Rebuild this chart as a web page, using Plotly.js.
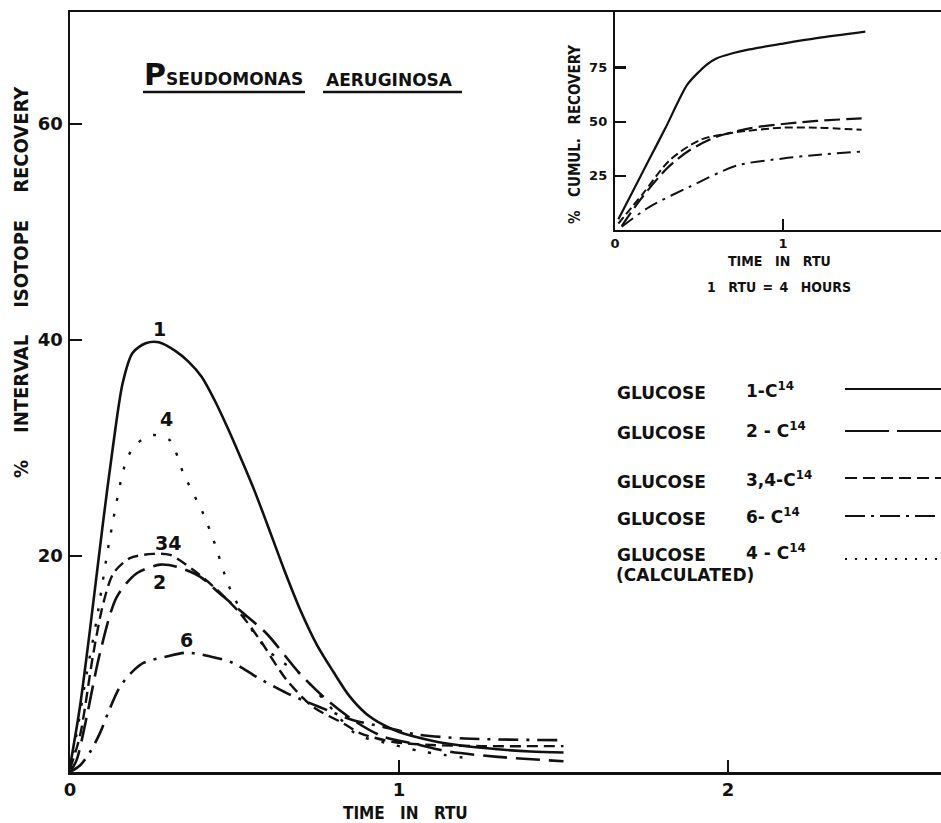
<!DOCTYPE html>
<html>
<head>
<meta charset="utf-8">
<script src="https://cdn.plot.ly/plotly-3.0.1.min.js"></script>
<style>html,body{margin:0;padding:0;background:#fff;}</style>
</head>
<body>
<div id="chart" style="width:941px;height:823px;"></div>
<script>
// ---- Main chart: % interval isotope recovery vs time (RTU) ----
const x_c1 = [0, 0.03, 0.06, 0.1, 0.13, 0.16, 0.19, 0.23, 0.27, 0.32, 0.36, 0.4, 0.44, 0.48, 0.52, 0.56, 0.6, 0.65, 0.7, 0.75, 0.8, 0.85, 0.9, 0.95, 1.0, 1.1, 1.2, 1.3, 1.4, 1.5];
const y_c1 = [0.5, 6, 13, 23, 30, 36, 38.8, 39.7, 39.8, 39, 38, 36.6, 34.4, 31.8, 29, 26.1, 22.9, 18.8, 15, 11.8, 9.3, 7, 5.4, 4.4, 3.7, 2.9, 2.4, 2.1, 1.9, 1.8];

const x_c2 = [0, 0.02, 0.05, 0.091, 0.142, 0.203, 0.274, 0.324, 0.395, 0.456, 0.527, 0.598, 0.699, 0.78, 0.861, 0.95, 1.05, 1.15, 1.3, 1.5];
const y_c2 = [0, 1.1, 5, 11, 16.2, 18.4, 19.2, 19.0, 18.1, 16.5, 14.7, 12.8, 9.1, 6.7, 4.8, 3.3, 2.6, 1.9, 1.4, 1.0];

const x_c34 = [0, 0.03, 0.071, 0.101, 0.132, 0.182, 0.253, 0.304, 0.375, 0.446, 0.517, 0.578, 0.659, 0.74, 0.831, 0.881, 0.98, 1.1, 1.25, 1.5];
const y_c34 = [0.3, 3.3, 11, 15.6, 18.4, 19.8, 20.2, 20.1, 18.7, 16.9, 14.7, 12.2, 8.5, 6.0, 4.5, 3.6, 2.8, 2.5, 2.4, 2.4];

const x_c6 = [0, 0.03, 0.06, 0.091, 0.12, 0.152, 0.19, 0.223, 0.294, 0.355, 0.426, 0.496, 0.567, 0.659, 0.76, 0.861, 0.95, 1.05, 1.2, 1.5];
const y_c6 = [0, 0.6, 1.8, 3.6, 5.8, 7.9, 9.3, 10.1, 10.7, 11.05, 10.7, 10.1, 8.8, 7.3, 6.0, 4.8, 4.2, 3.5, 3.1, 2.95];

const x_c4 = [0, 0.02, 0.05, 0.081, 0.122, 0.172, 0.203, 0.253, 0.304, 0.344, 0.405, 0.436, 0.486, 0.567, 0.63, 0.699, 0.78, 0.87, 0.947, 1.07, 1.23];
const y_c4 = [0.3, 3.5, 9, 14.1, 21.8, 28.9, 30.4, 31.2, 30.7, 27.7, 23.9, 21.5, 17, 12.5, 10.5, 9.1, 6.4, 3.5, 2.8, 1.9, 1.2];

// ---- Inset: % cumulative recovery ----
const ix_c1 = [0.02, 0.1, 0.2, 0.3, 0.43, 0.5, 0.55, 0.6, 0.7, 0.8, 1.0, 1.2, 1.49];
const iy_c1 = [5, 17, 32, 47, 67, 73, 76.5, 79, 81.5, 83.3, 86, 88.5, 91.5];
const ix_c2 = [0.04, 0.149, 0.31, 0.446, 0.605, 0.8, 1.0, 1.2, 1.468];
const iy_c2 = [1.8, 13.8, 28.5, 36.9, 43, 46.9, 48.9, 50.3, 51.5];
const ix_c34 = [0.02, 0.169, 0.327, 0.506, 0.704, 1.0, 1.2, 1.468];
const iy_c34 = [3, 17, 32.3, 41.5, 44.9, 47.2, 47.2, 46.2];
const ix_c6 = [0.04, 0.208, 0.446, 0.724, 1.0, 1.2, 1.468];
const iy_c6 = [1.5, 10.8, 20, 29.7, 33, 34.6, 36.2];

// ---- Tick labels ----
const mainXTicks = [0, 1, 2];
const mainYTicks = [20, 40, 60];
const insetXTicks = [0, 1];
const insetYTicks = [25, 50, 75];

// ---- Labels ----
const curveLabels = ["1", "4", "34", "2", "6"];
const legendIsotopes = ["1-C<sup>14</sup>", "2 - C<sup>14</sup>", "3,4-C<sup>14</sup>", "6- C<sup>14</sup>", "4 - C<sup>14</sup>"];

const INK = '#111';
const FONT = 'DejaVu Sans, Liberation Sans, sans-serif';
const CFONT = 'DejaVu Sans Condensed, DejaVu Sans, sans-serif';
const SP = '\u2003';
const SP2 = '\u2003\u2002';

const DASH = {
  solid: 'solid',
  long: '24px,9px',
  short: '11px,6px',
  dashdot: '20px,8px,3px,8px',
  dot: '3px,13px'
};
const IDASH = {
  solid: 'solid',
  long: '16px,6px',
  short: '8px,4px',
  dashdot: '14px,6px,3px,6px'
};

function tr(x, y, dash, w, xa, ya) {
  return {x: x, y: y, type: 'scatter', mode: 'lines', xaxis: xa, yaxis: ya,
    line: {color: INK, width: w, dash: dash, shape: 'spline', smoothing: 0.8},
    hoverinfo: 'skip', showlegend: false};
}

const data = [
  tr(x_c1, y_c1, DASH.solid, 2.6, 'x', 'y'),
  tr(x_c2, y_c2, DASH.long, 2.6, 'x', 'y'),
  tr(x_c34, y_c34, DASH.short, 2.4, 'x', 'y'),
  tr(x_c6, y_c6, DASH.dashdot, 2.6, 'x', 'y'),
  tr(x_c4, y_c4, DASH.dot, 2.4, 'x', 'y'),
  tr(ix_c1, iy_c1, IDASH.solid, 2.2, 'x2', 'y2'),
  tr(ix_c2, iy_c2, IDASH.long, 2.2, 'x2', 'y2'),
  tr(ix_c34, iy_c34, IDASH.short, 2.0, 'x2', 'y2'),
  tr(ix_c6, iy_c6, IDASH.dashdot, 2.0, 'x2', 'y2')
];

// pixel -> paper helpers (plot area: left 70, right 941, top 12, bottom 772)
const L = 70, R = 941, T = 12, B = 772;
const PX = p => (p - L) / (R - L);
const PY = p => (B - p) / (B - T);

function ann(px, py, text, size, o) {
  o = o || {};
  return Object.assign({
    xref: 'paper', yref: 'paper', x: PX(px), y: PY(py), text: text,
    showarrow: false, xanchor: 'center', yanchor: 'middle',
    font: {family: o.family || FONT, size: size, color: INK, weight: 'bold'}
  }, o.extra || {});
}

const annotations = [
  // main axis titles
  ann(21, 282, '%' + SP2 + 'INTERVAL' + SP2 + 'ISOTOPE' + SP2 + 'RECOVERY', 20, {family: CFONT, extra: {textangle: -90}}),
  ann(405, 813, 'TIME' + SP + 'IN' + SP + 'RTU', 17, {family: CFONT}),
  // title
  ann(142, 75, '<span style="font-size:30px">P</span>SEUDOMONAS', 17, {extra: {xanchor: 'left'}}),
  ann(324, 80, 'AERUGINOSA', 17, {extra: {xanchor: 'left'}}),
  // curve labels
  ann(159, 329, curveLabels[0], 19),
  ann(166, 419, curveLabels[1], 19),
  ann(168, 543, curveLabels[2], 19),
  ann(159, 582, curveLabels[3], 19),
  ann(186, 640, curveLabels[4], 19),
  // inset titles
  ann(575, 135, '%' + SP + 'CUMUL.' + SP + 'RECOVERY', 15, {family: CFONT, extra: {textangle: -90}}),
  ann(779, 261, 'TIME' + SP + 'IN' + SP + 'RTU', 14, {family: CFONT}),
  ann(779, 287, '1' + SP + 'RTU\u2002=\u20024' + SP + 'HOURS', 14, {family: CFONT})
];

// legend text rows
const legRowsY = [393, 433, 482, 519, 555];
legRowsY.forEach((py, i) => {
  annotations.push(ann(615, py, 'GLUCOSE', 17, {extra: {xanchor: 'left'}}));
  annotations.push(ann(744, py - 3, legendIsotopes[i], 17, {extra: {xanchor: 'left'}}));
});
annotations.push(ann(614, 575, '(CALCULATED)', 17, {extra: {xanchor: 'left'}}));

// legend line samples and title underlines (decoration)
const legLineY = [389, 431, 478, 516, 559];
const legDash = ['solid', '44px,8px', '12px,6px', '20px,6px,3px,6px', '2px,8px'];
const shapes = legLineY.map((py, i) => ({
  type: 'line', xref: 'paper', yref: 'paper', x0: PX(845), x1: PX(941), y0: PY(py), y1: PY(py),
  line: {color: INK, width: 2.2, dash: legDash[i]}
}));
shapes.push({type: 'line', xref: 'paper', yref: 'paper', x0: PX(143), x1: PX(305), y0: PY(92), y1: PY(92), line: {color: INK, width: 2.6}});
shapes.push({type: 'line', xref: 'paper', yref: 'paper', x0: PX(323), x1: PX(462), y0: PY(92), y1: PY(92), line: {color: INK, width: 2.6}});

const tickFontMain = {family: FONT, size: 18, color: INK, weight: 'bold'};
const tickFontInset = {family: FONT, size: 13, color: INK, weight: 'bold'};

const layout = {
  width: 941, height: 823,
  margin: {l: L, r: 941 - R, t: T, b: 823 - B, pad: 0},
  paper_bgcolor: '#fff', plot_bgcolor: 'rgba(0,0,0,0)',
  showlegend: false,
  xaxis: {
    domain: [0, 1], range: [0, (R - L) / 329], showgrid: false, zeroline: false,
    showline: true, linecolor: INK, linewidth: 2.5, mirror: true,
    ticks: 'inside', ticklen: 12, tickwidth: 2.5, tickcolor: INK,
    tickmode: 'array', tickvals: mainXTicks, ticktext: mainXTicks.map(String),
    tickfont: tickFontMain, ticklabelstandoff: 0, fixedrange: true
  },
  yaxis: {
    domain: [0, 1], range: [0, (B - T) / 10.8], showgrid: false, zeroline: false,
    showline: true, linecolor: INK, linewidth: 2.5, mirror: false,
    ticks: 'inside', ticklen: 12, tickwidth: 2.5, tickcolor: INK,
    tickmode: 'array', tickvals: mainYTicks, ticktext: mainYTicks.map(String),
    tickfont: tickFontMain, ticklabelstandoff: 1, fixedrange: true
  },
  xaxis2: {
    anchor: 'y2', domain: [PX(615), 1], range: [0, (R - 615) / 168], showgrid: false, zeroline: false,
    showline: true, linecolor: INK, linewidth: 2.2,
    ticks: 'inside', ticklen: 11, tickwidth: 2.2, tickcolor: INK,
    tickmode: 'array', tickvals: insetXTicks, ticktext: insetXTicks.map(String),
    tickfont: tickFontInset, ticklabelstandoff: 0, fixedrange: true
  },
  yaxis2: {
    anchor: 'x2', domain: [PY(230), 1], range: [0, (230 - T) / 2.168], showgrid: false, zeroline: false,
    showline: true, linecolor: INK, linewidth: 2.2,
    ticks: 'inside', ticklen: 11, tickwidth: 2.2, tickcolor: INK,
    tickmode: 'array', tickvals: insetYTicks, ticktext: insetYTicks.map(String),
    tickfont: tickFontInset, ticklabelstandoff: 3, fixedrange: true
  },
  annotations: annotations,
  shapes: shapes
};

Plotly.newPlot('chart', data, layout, {displayModeBar: false, staticPlot: true});
</script>
</body>
</html>
